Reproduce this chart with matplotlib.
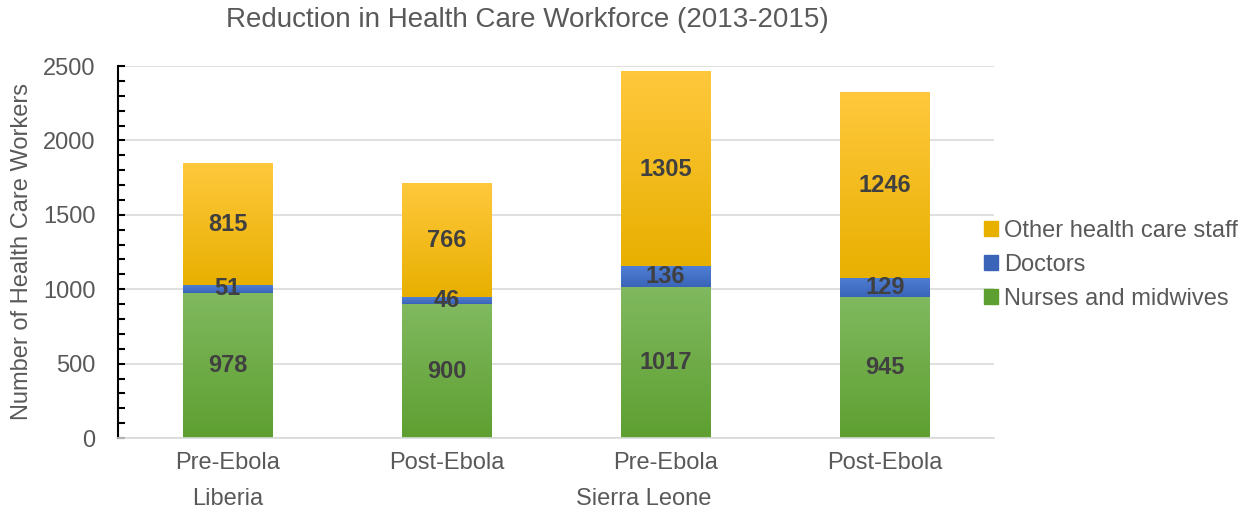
import matplotlib.pyplot as plt
import numpy as np
from matplotlib.colors import LinearSegmentedColormap
from matplotlib.patches import Patch

plt.rcParams['font.family'] = ['Liberation Sans', 'DejaVu Sans']

# datos
stages = ['Pre-Ebola', 'Post-Ebola', 'Pre-Ebola', 'Post-Ebola']
countries = ['Liberia', 'Sierra Leone']
nurses = [978, 900, 1017, 945]
doctors = [51, 46, 136, 129]
other = [815, 766, 1305, 1246]

# colores (arriba, abajo) para el degradado
col_nurses = ('#80b95f', '#5e9f31')
col_doctors = ('#4f7fd4', '#3a64b8')
col_other = ('#ffc83d', '#e8b000')

fig = plt.figure(figsize=(12.54, 5.12), dpi=100)
ax = fig.add_axes([0.094, 0.1445, 0.699, 0.7265])

x = np.arange(len(stages))
w = 0.41
grad = np.linspace(0, 1, 256).reshape(-1, 1)


def gbar(xc, bottom, height, cols):
    cmap = LinearSegmentedColormap.from_list('g', [cols[1], cols[0]])
    ax.imshow(grad, cmap=cmap, origin='lower', aspect='auto',
              extent=(xc - w/2, xc + w/2, bottom, bottom + height), zorder=2)


for i in x:
    gbar(i, 0, nurses[i], col_nurses)
    gbar(i, nurses[i], doctors[i], col_doctors)
    gbar(i, nurses[i] + doctors[i], other[i], col_other)
    lab = dict(ha='center', va='center', fontsize=17, fontweight='bold',
               color='#404040', zorder=3)
    ax.text(i, nurses[i] / 2, str(nurses[i]), **lab)
    ax.text(i, nurses[i] + doctors[i] / 2, str(doctors[i]), **lab)
    ax.text(i, nurses[i] + doctors[i] + other[i] / 2, str(other[i]), **lab)

ax.set_xlim(-0.5, 3.5)
ax.set_ylim(0, 2500)
ax.set_yticks(np.arange(0, 2501, 500))
ax.set_yticks(np.arange(0, 2501, 100), minor=True)
ax.tick_params(axis='y', which='both', direction='in', length=5, width=1.5,
               labelsize=17, labelcolor='#595959', pad=16)
ax.set_xticks(x)
ax.set_xticklabels(stages)
ax.tick_params(axis='x', length=0, labelsize=17, labelcolor='#595959', pad=10)
ax.grid(axis='y', color='#d9d9d9', linewidth=1.2, zorder=0)
ax.set_axisbelow(True)
for s in ['top', 'right']:
    ax.spines[s].set_visible(False)
ax.spines['bottom'].set_color('#d9d9d9')
ax.spines['bottom'].set_linewidth(1.2)
ax.spines['left'].set_color('black')
ax.spines['left'].set_linewidth(1.5)

# etiquetas de pais
ax.text(0, -0.165, countries[0], transform=ax.get_xaxis_transform(),
        ha='center', va='center', fontsize=17, color='#595959')
ax.text(1.9, -0.165, countries[1], transform=ax.get_xaxis_transform(),
        ha='center', va='center', fontsize=17, color='#595959')

fig.text(22/1254, 1 - 252/512, 'Number of Health Care Workers', rotation=90,
         ha='center', va='center', fontsize=17, color='#595959')
fig.text(527/1254, 1 - 20/512, 'Reduction in Health Care Workforce (2013-2015)',
         ha='center', va='center', fontsize=20, color='#595959')

handles = [Patch(color=col_other[1]), Patch(color=col_doctors[1]),
           Patch(color=col_nurses[1])]
leg = fig.legend(handles, ['Other health care staff', 'Doctors',
                           'Nurses and midwives'],
                 loc='center left', bbox_to_anchor=(984/1254, 1 - 265/512),
                 frameon=False, fontsize=17, handlelength=0.6,
                 handleheight=0.6, handletextpad=0.25, labelspacing=0.5,
                 borderaxespad=0, borderpad=0)
for t in leg.get_texts():
    t.set_color('#595959')

plt.savefig('out.png', dpi=100)
